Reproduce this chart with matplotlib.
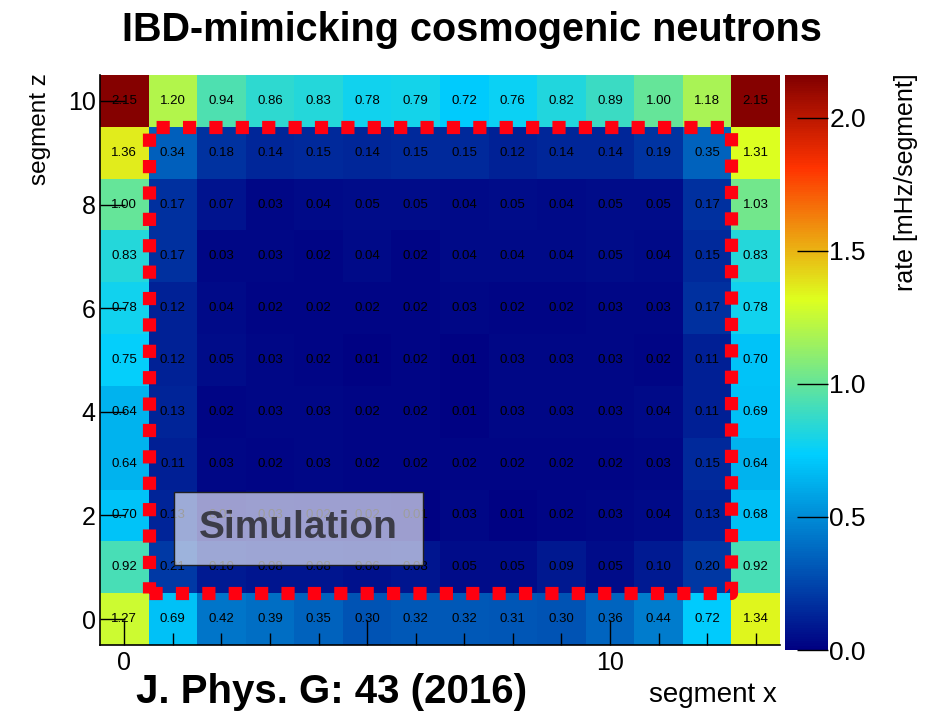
import matplotlib
matplotlib.use("Agg")
import matplotlib.pyplot as plt
from matplotlib.colors import LinearSegmentedColormap
from matplotlib.patches import Rectangle
import numpy as np

plt.rcParams["font.family"] = ["Liberation Sans", "DejaVu Sans"]

# ── Data: rate per segment [mHz/segment], one row per segment z ──────────────
segment_x = np.arange(14)
segment_z = np.arange(11)

z0  = [1.27, 0.69, 0.42, 0.39, 0.35, 0.30, 0.32, 0.32, 0.31, 0.30, 0.36, 0.44, 0.72, 1.34]
z1  = [0.92, 0.21, 0.10, 0.08, 0.08, 0.06, 0.08, 0.05, 0.05, 0.09, 0.05, 0.10, 0.20, 0.92]
z2  = [0.70, 0.13, 0.01, 0.03, 0.02, 0.02, 0.01, 0.03, 0.01, 0.02, 0.03, 0.04, 0.13, 0.68]
z3  = [0.64, 0.11, 0.03, 0.02, 0.03, 0.02, 0.02, 0.02, 0.02, 0.02, 0.02, 0.03, 0.15, 0.64]
z4  = [0.64, 0.13, 0.02, 0.03, 0.03, 0.02, 0.02, 0.01, 0.03, 0.03, 0.03, 0.04, 0.11, 0.69]
z5  = [0.75, 0.12, 0.05, 0.03, 0.02, 0.01, 0.02, 0.01, 0.03, 0.03, 0.03, 0.02, 0.11, 0.70]
z6  = [0.78, 0.12, 0.04, 0.02, 0.02, 0.02, 0.02, 0.03, 0.02, 0.02, 0.03, 0.03, 0.17, 0.78]
z7  = [0.83, 0.17, 0.03, 0.03, 0.02, 0.04, 0.02, 0.04, 0.04, 0.04, 0.05, 0.04, 0.15, 0.83]
z8  = [1.00, 0.17, 0.07, 0.03, 0.04, 0.05, 0.05, 0.04, 0.05, 0.04, 0.05, 0.05, 0.17, 1.03]
z9  = [1.36, 0.34, 0.18, 0.14, 0.15, 0.14, 0.15, 0.15, 0.12, 0.14, 0.14, 0.19, 0.35, 1.31]
z10 = [2.15, 1.20, 0.94, 0.86, 0.83, 0.78, 0.79, 0.72, 0.76, 0.82, 0.89, 1.00, 1.18, 2.15]

# fiducial volume boundary (segment coordinates)
fid_x = [0.5, 12.5, 12.5, 0.5, 0.5]
fid_z = [0.5, 0.5, 9.5, 9.5, 0.5]

VMAX = 2.16

rates = np.array([z0, z1, z2, z3, z4, z5, z6, z7, z8, z9, z10])

# ── ROOT-style 5-stop rainbow palette ─────────────────────────────────────────
stops = [0.00, 0.34, 0.61, 0.84, 1.00]
reds = [0.00, 0.00, 0.87, 1.00, 0.51]
greens = [0.00, 0.81, 1.00, 0.20, 0.00]
blues = [0.51, 1.00, 0.12, 0.00, 0.00]
root_cmap = LinearSegmentedColormap.from_list(
    "root_rainbow", list(zip(stops, zip(reds, greens, blues))))

# ── Figure ────────────────────────────────────────────────────────────────────
fig = plt.figure(figsize=(9.36, 7.17), dpi=100, facecolor="white")
ax = fig.add_axes([100 / 936, 1 - 645 / 717, 680 / 936, 570 / 717])
cax = fig.add_axes([785 / 936, 1 - 650 / 717, 43 / 936, 575 / 717])

x_edges = np.append(segment_x - 0.5, segment_x[-1] + 0.5)
z_edges = np.append(segment_z - 0.5, segment_z[-1] + 0.5)
mesh = ax.pcolormesh(x_edges, z_edges, rates, cmap=root_cmap, vmin=0, vmax=VMAX)

for iz, zz in enumerate(segment_z):
    for ix, xx in enumerate(segment_x):
        ax.text(xx, zz, f"{rates[iz, ix]:.2f}", ha="center", va="center",
                fontsize=9.5, color="black", zorder=3)

ax.plot(fid_x, fid_z, color="#ff0010", linewidth=9.5, linestyle=(0, (1, 1)),
        dash_capstyle="butt", zorder=4, clip_on=False)

ax.set_xlim(-0.5, 13.5)
ax.set_ylim(-0.5, 10.5)

ax.set_xticks([0, 5, 10])
ax.set_xticklabels(["0", "", "10"])
ax.set_xticks(segment_x, minor=True)
ax.set_yticks([0, 2, 4, 6, 8, 10])
ax.tick_params(axis="both", which="major", direction="in", length=18, width=1,
               labelsize=18, top=False, right=False)
ax.tick_params(axis="x", which="minor", direction="in", length=9, width=1)
ax.tick_params(axis="x", which="major", pad=4)
ax.tick_params(axis="y", which="major", pad=3)
for spine in ax.spines.values():
    spine.set_linewidth(1.2)
ax.spines["top"].set_visible(False)
ax.spines["right"].set_visible(False)

fig.text(777 / 936, 1 - 695 / 717, "segment x", fontsize=20, ha="right", va="center")
fig.text(40 / 936, 1 - 73 / 717, "segment z", fontsize=17.5, rotation=90,
         ha="center", va="top")

# Simulation label box (semi-transparent)
ax.add_patch(Rectangle((1.02, 1.04), 5.13, 1.41, facecolor="white", alpha=0.62,
                       edgecolor="none", zorder=5))
ax.add_patch(Rectangle((1.02, 1.04), 5.13, 1.41, facecolor="none",
                       edgecolor="#202020", linewidth=1, zorder=6))
ax.text(3.58, 1.76, "Simulation", fontsize=28, fontweight="bold", color="#3c3c48",
        ha="center", va="center", zorder=7)

# ── Colorbar ──────────────────────────────────────────────────────────────────
cb = fig.colorbar(mesh, cax=cax)
cb.outline.set_visible(False)
cb.set_ticks([0.0, 0.5, 1.0, 1.5, 2.0])
cb.set_ticklabels(["0.0", "0.5", "1.0", "1.5", "2.0"])
cax.tick_params(direction="in", length=22, width=1, labelsize=19, pad=1)
fig.text(906 / 936, 1 - 73 / 717, "rate [mHz/segment]", fontsize=18, rotation=90,
         ha="center", va="top")

fig.text(472 / 936, 1 - 30 / 717, "IBD-mimicking cosmogenic neutrons",
         fontsize=28.5, fontweight="bold", ha="center", va="center")
fig.text(332 / 936, 1 - 692 / 717, "J. Phys. G: 43 (2016)",
         fontsize=29, fontweight="bold", ha="center", va="center")

fig.savefig("out.png", dpi=100, facecolor="white")
